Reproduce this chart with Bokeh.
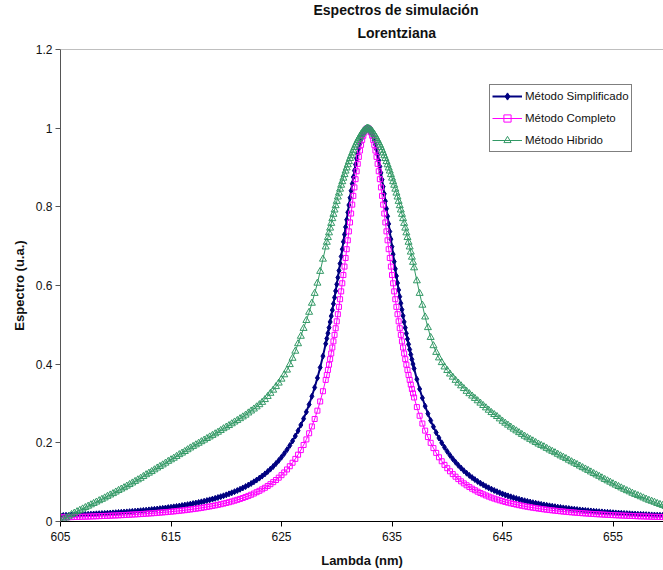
import numpy as np
from bokeh.plotting import figure
from bokeh.models import Range1d, FixedTicker, Span, Title, Legend, LegendItem
from bokeh.embed import file_html
from bokeh.resources import INLINE

# Wavelength grid (nm): 0.25 nm on the wings, 0.1 nm around the peak
wl_left = [round(605 + 0.25 * i, 2) for i in range(96)]     # 605.00 .. 628.75
wl_mid = [round(629 + 0.1 * i, 1) for i in range(80)]       # 629.0 .. 636.9
wl_right = [round(637 + 0.25 * i, 2) for i in range(93)]    # 637.00 .. 660.00
lambda_nm = wl_left + wl_mid + wl_right

metodo_simplificado = [
    0.0152, 0.0154, 0.0157, 0.0160, 0.0163, 0.0166, 0.0169, 0.0172, 0.0176, 0.0179,
    0.0183, 0.0186, 0.0190, 0.0194, 0.0198, 0.0202, 0.0206, 0.0210, 0.0215, 0.0219,
    0.0224, 0.0229, 0.0234, 0.0239, 0.0244, 0.0250, 0.0256, 0.0262, 0.0268, 0.0274,
    0.0281, 0.0288, 0.0295, 0.0302, 0.0310, 0.0318, 0.0326, 0.0334, 0.0343, 0.0353,
    0.0362, 0.0372, 0.0382, 0.0393, 0.0405, 0.0417, 0.0429, 0.0442, 0.0455, 0.0469,
    0.0484, 0.0499, 0.0515, 0.0532, 0.0550, 0.0569, 0.0588, 0.0609, 0.0631, 0.0653,
    0.0677, 0.0703, 0.0729, 0.0758, 0.0787, 0.0819, 0.0853, 0.0888, 0.0926, 0.0966,
    0.1009, 0.1054, 0.1103, 0.1154, 0.1210, 0.1269, 0.1332, 0.1400, 0.1473, 0.1552,
    0.1636, 0.1727, 0.1826, 0.1932, 0.2047, 0.2172, 0.2307, 0.2454, 0.2614, 0.2787,
    0.2976, 0.3183, 0.3406, 0.3651, 0.3917, 0.4205,
    0.4518, 0.4651, 0.4787, 0.4928, 0.5073, 0.5222, 0.5375, 0.5533, 0.5694, 0.5860,
    0.6029, 0.6202, 0.6378, 0.6557, 0.6739, 0.6923, 0.7110, 0.7297, 0.7485, 0.7673,
    0.7860, 0.8046, 0.8230, 0.8410, 0.8586, 0.8757, 0.8921, 0.9077, 0.9225, 0.9363,
    0.9490, 0.9605, 0.9706, 0.9794, 0.9867, 0.9925, 0.9966, 0.9992, 1.0000,
    0.9991, 0.9964, 0.9920, 0.9859, 0.9782, 0.9689, 0.9582, 0.9460, 0.9327, 0.9182,
    0.9027, 0.8863, 0.8691, 0.8513, 0.8330, 0.8143, 0.7952, 0.7760, 0.7566, 0.7372,
    0.7179, 0.6987, 0.6796, 0.6608, 0.6423, 0.6241, 0.6062, 0.5887, 0.5716, 0.5549,
    0.5387, 0.5229, 0.5075, 0.4926, 0.4781, 0.4641, 0.4505, 0.4373, 0.4246, 0.4122, 0.4003,
    0.3889, 0.3617, 0.3369, 0.3141, 0.2933, 0.2742, 0.2567, 0.2407, 0.2260, 0.2124,
    0.2000, 0.1885, 0.1780, 0.1682, 0.1592, 0.1508, 0.1430, 0.1358, 0.1291, 0.1229,
    0.1171, 0.1116, 0.1066, 0.1018, 0.0974, 0.0932, 0.0893, 0.0856, 0.0821, 0.0789,
    0.0758, 0.0729, 0.0701, 0.0675, 0.0651, 0.0627, 0.0605, 0.0584, 0.0564, 0.0545,
    0.0527, 0.0510, 0.0494, 0.0478, 0.0463, 0.0449, 0.0435, 0.0422, 0.0410, 0.0398,
    0.0387, 0.0376, 0.0365, 0.0355, 0.0346, 0.0337, 0.0328, 0.0319, 0.0311, 0.0303,
    0.0295, 0.0288, 0.0281, 0.0274, 0.0268, 0.0261, 0.0255, 0.0249, 0.0244, 0.0238,
    0.0233, 0.0228, 0.0223, 0.0218, 0.0213, 0.0209, 0.0204, 0.0200, 0.0196, 0.0192,
    0.0188, 0.0184, 0.0181, 0.0177, 0.0174, 0.0170, 0.0167, 0.0164, 0.0161, 0.0158,
    0.0155, 0.0152, 0.0149,
]

metodo_completo = [
    0.0104, 0.0106, 0.0108, 0.0110, 0.0112, 0.0114, 0.0116, 0.0118, 0.0121, 0.0123,
    0.0125, 0.0128, 0.0130, 0.0133, 0.0136, 0.0139, 0.0141, 0.0144, 0.0147, 0.0151,
    0.0154, 0.0157, 0.0161, 0.0164, 0.0168, 0.0172, 0.0176, 0.0180, 0.0184, 0.0189,
    0.0193, 0.0198, 0.0203, 0.0208, 0.0213, 0.0219, 0.0225, 0.0231, 0.0237, 0.0243,
    0.0250, 0.0257, 0.0264, 0.0272, 0.0280, 0.0288, 0.0297, 0.0306, 0.0315, 0.0325,
    0.0335, 0.0346, 0.0358, 0.0370, 0.0382, 0.0395, 0.0409, 0.0424, 0.0439, 0.0455,
    0.0472, 0.0490, 0.0509, 0.0530, 0.0551, 0.0574, 0.0598, 0.0624, 0.0651, 0.0680,
    0.0711, 0.0745, 0.0780, 0.0818, 0.0858, 0.0903, 0.0949, 0.1000, 0.1055, 0.1114,
    0.1178, 0.1247, 0.1323, 0.1405, 0.1494, 0.1592, 0.1699, 0.1816, 0.1945, 0.2087,
    0.2243, 0.2416, 0.2606, 0.2818, 0.3052, 0.3312,
    0.3600, 0.3724, 0.3853, 0.3987, 0.4127, 0.4272, 0.4423, 0.4580, 0.4744, 0.4913,
    0.5089, 0.5270, 0.5457, 0.5651, 0.5851, 0.6056, 0.6266, 0.6481, 0.6700, 0.6923,
    0.7149, 0.7376, 0.7603, 0.7830, 0.8056, 0.8278, 0.8494, 0.8703, 0.8904, 0.9093,
    0.9270, 0.9431, 0.9576, 0.9701, 0.9807, 0.9890, 0.9951, 0.9988, 1.0000,
    0.9988, 0.9951, 0.9890, 0.9807, 0.9701, 0.9576, 0.9431, 0.9270, 0.9093, 0.8904,
    0.8703, 0.8494, 0.8278, 0.8056, 0.7830, 0.7603, 0.7376, 0.7149, 0.6923, 0.6700,
    0.6481, 0.6266, 0.6056, 0.5851, 0.5651, 0.5457, 0.5270, 0.5089, 0.4913, 0.4744,
    0.4580, 0.4423, 0.4272, 0.4127, 0.3987, 0.3853, 0.3724, 0.3600, 0.3481, 0.3367, 0.3258,
    0.3153, 0.2909, 0.2688, 0.2490, 0.2310, 0.2147, 0.2000, 0.1866, 0.1744, 0.1633,
    0.1532, 0.1440, 0.1355, 0.1277, 0.1205, 0.1139, 0.1078, 0.1021, 0.0969, 0.0921,
    0.0876, 0.0834, 0.0795, 0.0758, 0.0724, 0.0692, 0.0662, 0.0634, 0.0608, 0.0583,
    0.0560, 0.0538, 0.0517, 0.0498, 0.0479, 0.0462, 0.0445, 0.0430, 0.0415, 0.0401,
    0.0387, 0.0374, 0.0362, 0.0351, 0.0340, 0.0329, 0.0319, 0.0309, 0.0300, 0.0291,
    0.0283, 0.0275, 0.0267, 0.0260, 0.0253, 0.0246, 0.0239, 0.0233, 0.0227, 0.0221,
    0.0215, 0.0210, 0.0205, 0.0200, 0.0195, 0.0190, 0.0186, 0.0182, 0.0178, 0.0173,
    0.0170, 0.0166, 0.0162, 0.0159, 0.0155, 0.0152, 0.0149, 0.0146, 0.0143, 0.0140,
    0.0137, 0.0134, 0.0131, 0.0129, 0.0126, 0.0124, 0.0121, 0.0119, 0.0117, 0.0115,
    0.0113, 0.0111, 0.0109,
]

metodo_hibrido = [
    0.0020, 0.0055, 0.0090, 0.0135, 0.0180, 0.0215, 0.0250, 0.0285, 0.0320, 0.0355,
    0.0390, 0.0425, 0.0460, 0.0495, 0.0530, 0.0565, 0.0600, 0.0640, 0.0675, 0.0710,
    0.0750, 0.0790, 0.0825, 0.0860, 0.0900, 0.0940, 0.0980, 0.1020, 0.1060, 0.1100,
    0.1145, 0.1190, 0.1230, 0.1270, 0.1315, 0.1360, 0.1400, 0.1440, 0.1485, 0.1530,
    0.1570, 0.1610, 0.1655, 0.1700, 0.1740, 0.1780, 0.1825, 0.1870, 0.1910, 0.1950,
    0.1990, 0.2030, 0.2070, 0.2110, 0.2150, 0.2190, 0.2230, 0.2270, 0.2315, 0.2360,
    0.2400, 0.2440, 0.2485, 0.2530, 0.2570, 0.2615, 0.2660, 0.2705, 0.2760, 0.2810,
    0.2860, 0.2915, 0.2970, 0.3030, 0.3100, 0.3180, 0.3260, 0.3340, 0.3430, 0.3520,
    0.3620, 0.3730, 0.3850, 0.3990, 0.4150, 0.4330, 0.4520, 0.4710, 0.4910, 0.5110,
    0.5320, 0.5550, 0.5800, 0.6060, 0.6360, 0.6670,
    0.698, 0.710, 0.722, 0.734, 0.746, 0.758, 0.770, 0.781, 0.792, 0.803,
    0.814, 0.825, 0.835, 0.845, 0.855, 0.864, 0.873, 0.882, 0.891, 0.899,
    0.907, 0.915, 0.923, 0.930, 0.937, 0.944, 0.951, 0.957, 0.963, 0.969,
    0.974, 0.979, 0.984, 0.988, 0.992, 0.995, 0.997, 0.999, 1.000, 0.999,
    0.997, 0.995, 0.992, 0.988, 0.984, 0.979, 0.974, 0.969, 0.963, 0.957,
    0.951, 0.944, 0.937, 0.930, 0.923, 0.915, 0.907, 0.899, 0.891, 0.882,
    0.873, 0.864, 0.855, 0.845, 0.835, 0.825, 0.814, 0.803, 0.792, 0.781,
    0.770, 0.758, 0.746, 0.734, 0.722, 0.710, 0.698, 0.685, 0.672, 0.659,
    0.6450, 0.6120, 0.5800, 0.5500, 0.5200, 0.4930, 0.4680, 0.4470, 0.4300, 0.4160,
    0.4040, 0.3930, 0.3840, 0.3750, 0.3670, 0.3590, 0.3520, 0.3450, 0.3380, 0.3310,
    0.3250, 0.3190, 0.3130, 0.3070, 0.3010, 0.2950, 0.2890, 0.2830, 0.2770, 0.2720,
    0.2670, 0.2610, 0.2550, 0.2500, 0.2450, 0.2400, 0.2350, 0.2305, 0.2260, 0.2215,
    0.2170, 0.2130, 0.2090, 0.2050, 0.2010, 0.1970, 0.1935, 0.1900, 0.1860, 0.1820,
    0.1785, 0.1750, 0.1710, 0.1670, 0.1635, 0.1600, 0.1560, 0.1520, 0.1485, 0.1450,
    0.1410, 0.1370, 0.1335, 0.1300, 0.1260, 0.1220, 0.1185, 0.1150, 0.1110, 0.1070,
    0.1035, 0.1000, 0.0960, 0.0925, 0.0890, 0.0855, 0.0820, 0.0785, 0.0755, 0.0720,
    0.0690, 0.0660, 0.0630, 0.0600, 0.0570, 0.0540, 0.0515, 0.0490, 0.0460, 0.0435,
    0.0410, 0.0385, 0.0360,
]

x_ticks = [605, 615, 625, 635, 645, 655]
y_ticks = [0, 0.2, 0.4, 0.6, 0.8, 1, 1.2]
y_tick_labels = ["0", "0.2", "0.4", "0.6", "0.8", "1", "1.2"]

FONT = "Liberation Sans"
NAVY = "#000080"
MAGENTA = "#FF00FF"
SEA = "#339966"

p = figure(
    title=None,
    width=663, height=570,
    x_range=Range1d(605, 659.57), y_range=Range1d(0, 1.2),
    output_backend="svg", toolbar_location=None,
    min_border_left=60, min_border_right=0,
    min_border_top=49, min_border_bottom=49,
    background_fill_color="white", border_fill_color="white",
)
p.outline_line_color = None
p.xgrid.visible = False
p.ygrid.visible = False

# top edge of the plot area
p.add_layout(Span(location=1.2, dimension="width", line_color="#808080", line_width=1))

# series
l1 = p.line(lambda_nm, metodo_simplificado, line_color=NAVY, line_width=2)
s1 = p.scatter(lambda_nm, metodo_simplificado, marker="diamond", size=6,
               fill_color=NAVY, line_color=NAVY, line_width=1)
l2 = p.line(lambda_nm, metodo_completo, line_color=MAGENTA, line_width=1)
s2 = p.scatter(lambda_nm, metodo_completo, marker="square", size=5,
               fill_color=None, line_color=MAGENTA, line_width=1)
l3 = p.line(lambda_nm, metodo_hibrido, line_color=SEA, line_width=1)
s3 = p.scatter(lambda_nm, metodo_hibrido, marker="triangle", size=7,
               fill_color=None, line_color=SEA, line_width=1)

# axes
for ax in (p.xaxis[0], p.yaxis[0]):
    ax.major_tick_in = 0
    ax.major_tick_out = 5
    ax.minor_tick_in = 0
    ax.minor_tick_out = 0
    ax.major_label_text_font = FONT
    ax.major_label_text_font_size = "12px"
    ax.major_label_text_color = "#111111"
    ax.axis_label_text_font = FONT
    ax.axis_label_text_font_size = "13px"
    ax.axis_label_text_font_style = "bold"
    ax.axis_label_text_color = "#111111"

p.xaxis.ticker = FixedTicker(ticks=x_ticks)
p.xaxis.axis_label = "Lambda (nm)"
p.xaxis.axis_line_color = "black"
p.xaxis.major_tick_line_color = "black"
p.xaxis.major_label_standoff = 5
p.xaxis.axis_label_standoff = 9

p.yaxis.ticker = FixedTicker(ticks=y_ticks)
p.yaxis.major_label_overrides = dict(zip(y_ticks, y_tick_labels))
p.yaxis.axis_label = "Espectro (u.a.)"
p.yaxis.axis_line_color = "#555555"
p.yaxis.major_tick_line_color = "#555555"
p.yaxis.major_label_standoff = 3
p.yaxis.axis_label_standoff = 6

# two-line title (the first one added sits next to the plot area)
title_style = dict(align="left", text_font=FONT, text_font_size="14px",
                   text_font_style="bold", text_color="#111111")
p.add_layout(Title(text="Lorentziana", offset=297, standoff=17, **title_style), "above")
p.add_layout(Title(text="Espectros de simulación", offset=253, standoff=-7, **title_style), "above")

legend = Legend(
    items=[
        LegendItem(label="Método Simplificado", renderers=[l1, s1]),
        LegendItem(label="Método Completo", renderers=[l2, s2]),
        LegendItem(label="Método Hibrido", renderers=[l3, s3]),
    ],
    location=(429, 369),
    label_text_font=FONT, label_text_font_size="11.5px", label_text_color="#111111",
    border_line_color="black", border_line_width=1,
    background_fill_color="white", background_fill_alpha=1,
    padding=2, spacing=4, margin=0,
    glyph_width=30, glyph_height=18, label_height=18, label_standoff=3,
)
p.add_layout(legend)

open("out.html", "w").write(file_html(p, INLINE))
